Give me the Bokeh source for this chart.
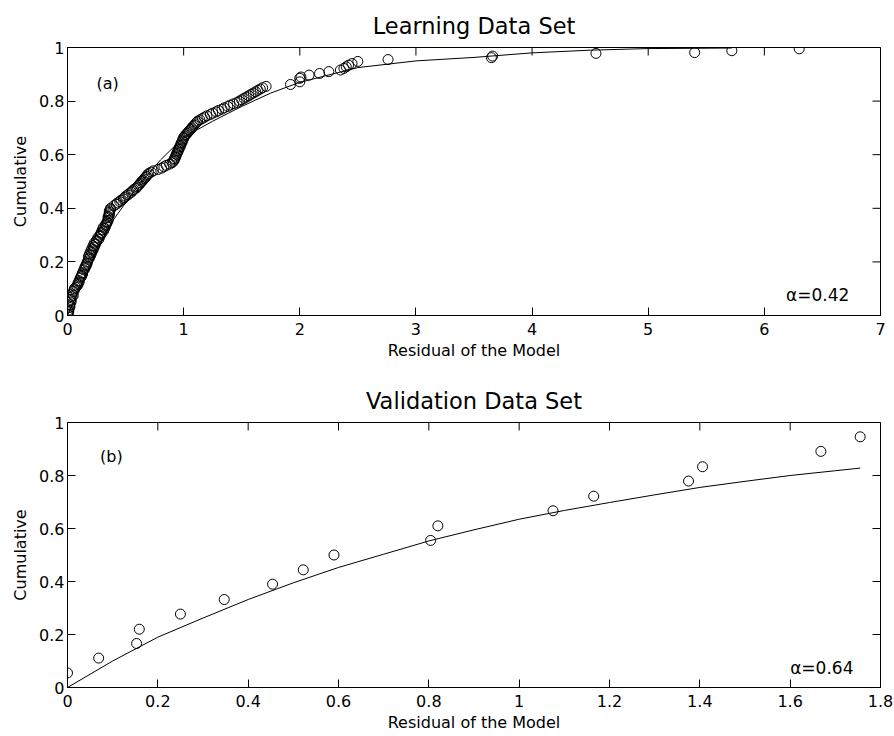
import math
from bokeh.plotting import figure
from bokeh.models import Range1d, FixedTicker, Label, CustomJSTickFormatter
from bokeh.layouts import column
from bokeh.embed import file_html
from bokeh.resources import INLINE

# ---- Learning data set (panel a): residuals and cumulative levels ----
learn_x = [0.00, 0.01, 0.01, 0.02, 0.02, 0.03, 0.03, 0.04, 0.04, 0.05,
           0.06, 0.08, 0.09, 0.10, 0.11, 0.12, 0.13, 0.14, 0.15, 0.16,
           0.17, 0.18, 0.18, 0.19, 0.20, 0.21, 0.22, 0.23, 0.25, 0.26,
           0.28, 0.29, 0.30, 0.31, 0.33, 0.34, 0.35, 0.36, 0.36, 0.37,
           0.40, 0.43, 0.46, 0.49, 0.52, 0.55, 0.57, 0.60, 0.62, 0.64,
           0.66, 0.68, 0.70, 0.74, 0.78, 0.81, 0.85, 0.90, 0.92, 0.93,
           0.94, 0.95, 0.96, 0.97, 0.98, 0.99, 1.00, 1.01, 1.03, 1.05,
           1.07, 1.09, 1.11, 1.14, 1.18, 1.23, 1.28, 1.33, 1.38, 1.43,
           1.48, 1.52, 1.56, 1.60, 1.64, 1.68, 1.71,
           0.01, 0.02, 0.03, 0.05, 0.06, 0.07, 0.09, 0.10, 0.12, 0.13,
           0.15, 0.16, 0.17, 0.19, 0.20, 0.21, 0.22, 0.23, 0.24, 0.25,
           0.27, 0.28, 0.29, 0.31, 0.32, 0.33, 0.34, 0.35, 0.35, 0.36,
           0.36, 0.37, 0.42, 0.45, 0.48, 0.50, 0.53, 0.56, 0.59, 0.61,
           0.63, 0.65, 0.67, 0.69, 0.72, 0.83, 0.88, 0.91, 0.92, 0.93,
           0.94, 0.95, 0.96, 0.97, 0.98, 0.99, 1.00, 1.02, 1.04, 1.06,
           1.08, 1.10, 1.12, 1.16, 1.20, 1.25, 1.30, 1.35, 1.40, 1.46,
           1.50, 1.54, 1.58, 1.62, 1.66,
           1.92, 2.00, 2.00, 2.01, 2.08, 2.17, 2.25, 2.35, 2.38, 2.40,
           2.42, 2.45, 2.50, 2.76, 3.65, 3.66, 4.55, 5.40, 5.72, 6.30]
learn_y = [0.005, 0.01, 0.02, 0.03, 0.04, 0.05, 0.06, 0.07, 0.08, 0.09,
           0.10, 0.11, 0.12, 0.13, 0.14, 0.15, 0.16, 0.17, 0.18, 0.19,
           0.20, 0.21, 0.22, 0.23, 0.24, 0.25, 0.26, 0.27, 0.28, 0.29,
           0.30, 0.31, 0.32, 0.33, 0.34, 0.35, 0.37, 0.38, 0.39, 0.40,
           0.41, 0.42, 0.43, 0.44, 0.45, 0.46, 0.47, 0.48, 0.49, 0.50,
           0.51, 0.52, 0.53, 0.54, 0.545, 0.55, 0.56, 0.57, 0.58, 0.59,
           0.60, 0.61, 0.62, 0.63, 0.64, 0.65, 0.66, 0.67, 0.68, 0.69,
           0.70, 0.71, 0.72, 0.73, 0.74, 0.75, 0.76, 0.77, 0.78, 0.79,
           0.80, 0.81, 0.82, 0.83, 0.84, 0.85, 0.855,
           0.015, 0.035, 0.055, 0.075, 0.095, 0.105, 0.115, 0.125, 0.145, 0.155,
           0.175, 0.185, 0.195, 0.215, 0.225, 0.235, 0.245, 0.255, 0.265, 0.275,
           0.285, 0.295, 0.305, 0.315, 0.325, 0.335, 0.345, 0.355, 0.365, 0.375,
           0.385, 0.395, 0.415, 0.425, 0.435, 0.445, 0.455, 0.465, 0.475, 0.485,
           0.495, 0.505, 0.515, 0.525, 0.535, 0.555, 0.565, 0.575, 0.585, 0.595,
           0.605, 0.615, 0.625, 0.635, 0.645, 0.655, 0.665, 0.675, 0.685, 0.695,
           0.705, 0.715, 0.725, 0.735, 0.745, 0.755, 0.765, 0.775, 0.785, 0.795,
           0.805, 0.815, 0.825, 0.835, 0.845,
           0.862, 0.872, 0.885, 0.89, 0.897, 0.903, 0.91, 0.916, 0.922, 0.928,
           0.934, 0.94, 0.948, 0.955, 0.962, 0.968, 0.978, 0.981, 0.988, 0.995]
learn_fit_x = [0, 0.1, 0.2, 0.3, 0.4, 0.6, 0.8, 1.0, 1.25, 1.5, 1.75,
               2.0, 2.5, 3.0, 3.5, 4.0, 4.5, 5.0, 5.72]
learn_fit_y = [0, 0.1, 0.19, 0.28, 0.36, 0.48, 0.58, 0.665, 0.725, 0.78, 0.83,
               0.87, 0.925, 0.95, 0.963, 0.98, 0.99, 0.996, 0.998]

# ---- Validation data set (panel b) ----
valid_x = [0.0, 0.069, 0.153, 0.159, 0.25, 0.347, 0.454, 0.522, 0.59,
           0.804, 0.82, 1.075, 1.165, 1.375, 1.406, 1.668, 1.755]
valid_y = [0.055, 0.111, 0.166, 0.22, 0.277, 0.332, 0.39, 0.444, 0.5,
           0.555, 0.61, 0.667, 0.722, 0.779, 0.833, 0.891, 0.946]
valid_fit_x = [0, 0.1, 0.2, 0.3, 0.4, 0.5, 0.6, 0.7, 0.8, 0.9, 1.0, 1.1, 1.2,
               1.3, 1.4, 1.5, 1.6, 1.7, 1.755]
valid_fit_y = [0, 0.1, 0.19, 0.262, 0.332, 0.395, 0.453, 0.503, 0.553, 0.595,
               0.635, 0.668, 0.698, 0.727, 0.755, 0.778, 0.8, 0.818, 0.828]

y_ticks = [0, 0.2, 0.4, 0.6, 0.8, 1]
learn_x_ticks = [0, 1, 2, 3, 4, 5, 6, 7]
valid_x_ticks = [0, 0.2, 0.4, 0.6, 0.8, 1, 1.2, 1.4, 1.6, 1.8]

FONT = "DejaVu Sans"


def style_axis(ax, ticks):
    ax.ticker = FixedTicker(ticks=ticks)
    ax.formatter = CustomJSTickFormatter(code="return String(Math.round(tick*10)/10);")
    ax.major_tick_in = 8
    ax.major_tick_out = 0
    ax.minor_tick_in = 0
    ax.minor_tick_out = 0
    ax.axis_line_color = "black"
    ax.major_tick_line_color = "black"
    ax.major_label_text_font = FONT
    ax.major_label_text_color = "black"
    ax.major_label_text_font_size = "16px"
    ax.axis_label_text_font = FONT
    ax.axis_label_text_font_size = "16px"
    ax.axis_label_text_font_style = "normal"
    ax.axis_label_text_color = "black"


def make_panel(title, xmax, xticks, x, y, fx, fy, tag, tag_xy, alpha_text, alpha_xy,
               height, btop, bbot):
    p = figure(width=894, height=height, x_range=Range1d(0, xmax), y_range=Range1d(0, 1),
               output_backend="svg", toolbar_location=None, title=title,
               min_border_left=67, min_border_right=14, min_border_top=btop,
               min_border_bottom=bbot)
    p.background_fill_color = "white"
    p.border_fill_color = "white"
    p.outline_line_color = "black"
    p.outline_line_width = 1
    p.xgrid.visible = False
    p.ygrid.visible = False
    p.title.text_font = FONT
    p.title.text_font_size = "22.5px"
    p.title.text_font_style = "normal"
    p.title.text_color = "black"
    p.title.align = "center"
    p.title.standoff = 18

    style_axis(p.xaxis[0], xticks)
    style_axis(p.yaxis[0], y_ticks)
    p.xaxis[0].major_label_standoff = 7
    p.yaxis[0].major_label_standoff = 3
    p.xaxis[0].axis_label = "Residual of the Model"
    p.yaxis[0].axis_label = "Cumulative"
    p.xaxis[0].axis_label_standoff = 3
    p.yaxis[0].axis_label_standoff = 6

    # inward ticks on the top and right edges of the box (clipped to the frame)
    p.scatter(xticks, [1] * len(xticks), marker="dash", angle=math.pi / 2, size=16,
              line_color="black", line_width=1)
    p.scatter([xmax] * len(y_ticks), y_ticks, marker="dash", size=16,
              line_color="black", line_width=1)

    p.line(fx, fy, line_color="black", line_width=1)
    p.scatter(x, y, marker="circle", size=10, fill_color=None,
              line_color="black", line_width=1)

    p.add_layout(Label(x=tag_xy[0], y=tag_xy[1], text=tag, text_font=FONT,
                       text_font_size="16px", text_baseline="alphabetic",
                       text_color="black"))
    p.add_layout(Label(x=alpha_xy[0], y=alpha_xy[1], text=alpha_text, text_font=FONT,
                       text_font_size="17px", text_baseline="alphabetic",
                       text_color="black"))
    return p


p1 = make_panel("Learning Data Set", 7, learn_x_ticks, learn_x, learn_y,
                learn_fit_x, learn_fit_y, "(a)", (0.25, 0.867), "α=0.42", (6.186, 0.075),
                370, 47, 55)
p2 = make_panel("Validation Data Set", 1.8, valid_x_ticks, valid_x, valid_y,
                valid_fit_x, valid_fit_y, "(b)", (0.072, 0.87), "α=0.64", (1.6, 0.072),
                366, 52, 49)

layout = column(p1, p2, spacing=0)
open("out.html", "w").write(file_html(layout, INLINE))
